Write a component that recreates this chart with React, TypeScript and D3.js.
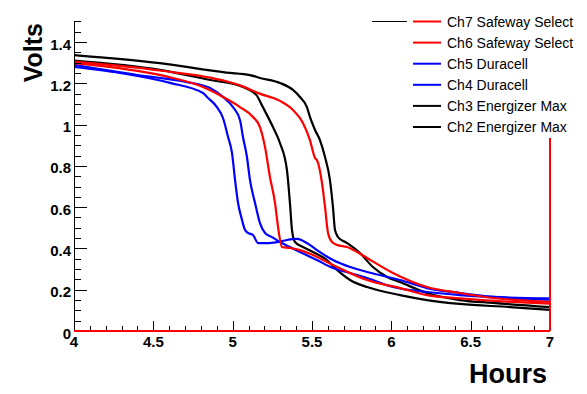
import * as d3 from 'd3'
import { useEffect, useRef } from 'react'

type Pt = [number, number]

// hours, volts
const ch2Energizer: Pt[] = [
  [4.0, 1.337], [4.54, 1.298], [4.96, 1.252], [5.109, 1.24], [5.172, 1.226], [5.298, 1.202],
  [5.38, 1.168], [5.424, 1.134], [5.468, 1.085], [5.487, 1.037], [5.519, 0.974], [5.55, 0.925],
  [5.582, 0.843], [5.613, 0.732], [5.632, 0.601], [5.645, 0.489], [5.664, 0.455], [5.721, 0.426],
  [5.802, 0.378], [5.884, 0.31], [5.973, 0.262], [6.055, 0.237], [6.225, 0.184], [6.433, 0.15],
  [6.641, 0.136], [7.0, 0.116],
]
const ch3Energizer: Pt[] = [
  [4.0, 1.31], [4.54, 1.265], [4.86, 1.216], [5.065, 1.182], [5.15, 1.143], [5.19, 1.085],
  [5.254, 0.988], [5.298, 0.911], [5.342, 0.78], [5.361, 0.62], [5.374, 0.489], [5.393, 0.431],
  [5.443, 0.407], [5.506, 0.383], [5.594, 0.344], [5.658, 0.296], [5.74, 0.247], [5.847, 0.213],
  [6.055, 0.174], [6.225, 0.15], [6.433, 0.131], [6.748, 0.116], [7.0, 0.102],
]
const ch4Duracell: Pt[] = [
  [4.0, 1.279], [4.29, 1.25], [4.605, 1.202], [4.813, 1.153], [4.838, 1.134], [4.901, 1.085],
  [4.939, 1.032], [4.971, 0.94], [4.996, 0.862], [5.015, 0.732], [5.034, 0.62], [5.059, 0.538],
  [5.078, 0.489], [5.097, 0.475], [5.128, 0.465], [5.16, 0.426], [5.216, 0.426], [5.279, 0.431],
  [5.342, 0.441], [5.405, 0.446], [5.468, 0.426], [5.531, 0.392], [5.632, 0.344], [5.74, 0.31],
  [5.847, 0.286], [6.055, 0.247], [6.225, 0.208], [6.433, 0.184], [6.641, 0.165], [7.0, 0.152],
]
const ch5Duracell: Pt[] = [
  [4.0, 1.289], [4.4, 1.24], [4.712, 1.206], [4.857, 1.177], [4.939, 1.134], [5.002, 1.085],
  [5.046, 1.022], [5.065, 0.94], [5.09, 0.843], [5.109, 0.732], [5.141, 0.62], [5.172, 0.523],
  [5.204, 0.475], [5.248, 0.455], [5.298, 0.431], [5.361, 0.407], [5.424, 0.383], [5.531, 0.344],
  [5.632, 0.305], [5.74, 0.281], [5.847, 0.257], [6.01, 0.213], [6.225, 0.189], [6.433, 0.174],
  [6.641, 0.165], [7.0, 0.158],
]
const ch6Safeway: Pt[] = [
  [4.0, 1.298], [4.4, 1.26], [4.6, 1.23], [4.813, 1.182], [4.939, 1.134], [5.046, 1.085],
  [5.128, 1.037], [5.172, 0.988], [5.204, 0.891], [5.235, 0.746], [5.267, 0.62], [5.286, 0.504],
  [5.311, 0.407], [5.361, 0.402], [5.424, 0.392], [5.506, 0.368], [5.632, 0.32], [5.74, 0.281],
  [5.847, 0.247], [6.055, 0.208], [6.225, 0.174], [6.433, 0.158], [7.0, 0.132],
]
const ch7Safeway: Pt[] = [
  [4.0, 1.305], [4.54, 1.262], [4.96, 1.21], [5.046, 1.19], [5.17, 1.15], [5.298, 1.115],
  [5.38, 1.071], [5.443, 1.008], [5.487, 0.925], [5.519, 0.838], [5.531, 0.828], [5.563, 0.717],
  [5.582, 0.601], [5.601, 0.475], [5.626, 0.431], [5.658, 0.417], [5.721, 0.407], [5.784, 0.383],
  [5.847, 0.354], [6.01, 0.281], [6.225, 0.213], [6.433, 0.184], [6.641, 0.16], [7.0, 0.141],
]

const seriesNames = [
  'Ch7 Safeway Select',
  'Ch6 Safeway Select',
  'Ch5 Duracell',
  'Ch4 Duracell',
  'Ch3 Energizer Max',
  'Ch2 Energizer Max',
]
const seriesColors = ['#ff0000', '#ff0000', '#0000ff', '#0000ff', '#000000', '#000000']
const seriesData = [ch7Safeway, ch6Safeway, ch5Duracell, ch4Duracell, ch3Energizer, ch2Energizer]

const xTicks = [4, 4.5, 5, 5.5, 6, 6.5, 7]
const yTicks = [0, 0.2, 0.4, 0.6, 0.8, 1, 1.2, 1.4]
const lastEdgeTop = 0.935 // red outline edge at x = 7

export default function App() {
  const svgRef = useRef<SVGSVGElement>(null)

  useEffect(() => {
    if (!svgRef.current) return
    const svg = d3.select(svgRef.current)
    svg.selectAll('*').remove()

    const W = 587
    const H = 394
    const x = d3.scaleLinear().domain([4, 7]).range([74, 550])
    const y = d3.scaleLinear().domain([0, 1.5]).range([331, 21.4])
    const font = 'Liberation Sans, Arial, Helvetica, sans-serif'

    svg.attr('viewBox', `0 0 ${W} ${H}`)
    svg.append('rect').attr('width', W).attr('height', H).attr('fill', '#fff')

    const line = d3
      .line<Pt>()
      .x((d) => x(d[0]))
      .y((d) => y(d[1]))
      .curve(d3.curveMonotoneX)

    // black first, then blue, then red on top
    const order = [5, 4, 3, 2, 1, 0]
    order.forEach((i) => {
      svg
        .append('path')
        .datum(seriesData[i])
        .attr('fill', 'none')
        .attr('stroke', seriesColors[i])
        .attr('stroke-width', 2.2)
        .attr('stroke-linejoin', 'round')
        .attr('d', line)
    })

    // axes
    const ax = svg.append('g').attr('stroke', '#000').attr('stroke-width', 1).attr('shape-rendering', 'crispEdges')
    ax.append('line').attr('x1', x(4)).attr('x2', x(4)).attr('y1', y(1.5)).attr('y2', y(0))
    ax.append('line').attr('x1', x(4)).attr('x2', x(7)).attr('y1', y(0)).attr('y2', y(0))

    d3.range(0, 1.5001, 0.05).forEach((v) => {
      const major = Math.abs(v / 0.2 - Math.round(v / 0.2)) < 1e-6
      ax.append('line')
        .attr('x1', x(4))
        .attr('x2', x(4) + (major ? 13 : 7))
        .attr('y1', Math.round(y(v)) + 0.5)
        .attr('y2', Math.round(y(v)) + 0.5)
    })
    d3.range(4, 7.0001, 0.1).forEach((h) => {
      const major = Math.abs(h / 0.5 - Math.round(h / 0.5)) < 1e-6
      ax.append('line')
        .attr('x1', Math.round(x(h)) + 0.5)
        .attr('x2', Math.round(x(h)) + 0.5)
        .attr('y1', y(0))
        .attr('y2', y(0) - (major ? 10 : 5))
    })

    // red outline of the last histogram
    svg.append('line')
      .attr('x1', x(4)).attr('x2', x(7)).attr('y1', y(0)).attr('y2', y(0))
      .attr('stroke', '#ff0000').attr('stroke-width', 2)
    svg.append('line')
      .attr('x1', x(7)).attr('x2', x(7)).attr('y1', y(lastEdgeTop)).attr('y2', y(0))
      .attr('stroke', '#ff0000').attr('stroke-width', 2)

    // tick labels
    svg.append('g')
      .selectAll('text')
      .data(yTicks)
      .join('text')
      .attr('x', 71)
      .attr('y', (d) => y(d) + 7.5)
      .attr('text-anchor', 'end')
      .attr('font-family', font)
      .attr('font-weight', 'bold')
      .attr('font-size', 15)
      .text((d) => String(d))
    svg.append('g')
      .selectAll('text')
      .data(xTicks)
      .join('text')
      .attr('x', (d) => x(d))
      .attr('y', y(0) + 15.5)
      .attr('text-anchor', 'middle')
      .attr('font-family', font)
      .attr('font-weight', 'bold')
      .attr('font-size', 15)
      .text((d) => String(d))

    // axis titles
    svg.append('text')
      .attr('transform', 'translate(42,23) rotate(-90)')
      .attr('text-anchor', 'end')
      .attr('font-family', font)
      .attr('font-weight', 'bold')
      .attr('font-size', 25)
      .text('Volts')
    svg.append('text')
      .attr('x', 547)
      .attr('y', 383)
      .attr('text-anchor', 'end')
      .attr('font-family', font)
      .attr('font-weight', 'bold')
      .attr('font-size', 27)
      .text('Hours')

    // legend
    svg.append('line')
      .attr('x1', 372).attr('x2', 407).attr('y1', 21.5).attr('y2', 21.5)
      .attr('stroke', '#000').attr('stroke-width', 1)
    const legendY = d3.scalePoint<string>().domain(seriesNames).range([21.5, 127]).padding(0)
    const lg = svg.append('g')
    seriesNames.forEach((name, i) => {
      const ly = legendY(name) ?? 0
      lg.append('line')
        .attr('x1', 413).attr('x2', 441).attr('y1', ly).attr('y2', ly)
        .attr('stroke', seriesColors[i]).attr('stroke-width', 2)
      lg.append('text')
        .attr('x', 447)
        .attr('y', ly + 5)
        .attr('font-family', font)
        .attr('font-size', 14)
        .text(name)
    })
  }, [])

  return (
    <svg
      ref={svgRef}
      width={587}
      height={394}
      style={{ position: 'absolute', left: 0, top: 0, display: 'block' }}
    />
  )
}
